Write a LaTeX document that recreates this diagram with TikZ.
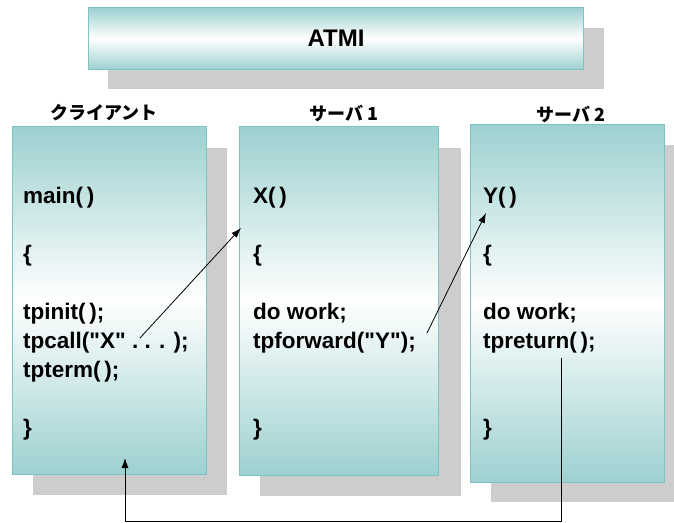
\documentclass[tikz,border=0pt]{standalone}
\usepackage{fontspec}
\setmainfont{Liberation Sans}
\newfontfamily\jpfont{Noto Sans CJK JP}
\usetikzlibrary{arrows.meta,positioning}
\definecolor{tealx}{HTML}{9DD0D0}
\definecolor{edgex}{HTML}{7CC4C4}
\definecolor{greyx}{HTML}{CDCDCD}
\tikzset{
  panel/.style={draw=edgex,line width=1.2pt,top color=tealx,bottom color=tealx,middle color=white,anchor=north west,inner sep=0pt},
  shadowbox/.style={fill=greyx},
  code/.style={font=\fontsize{22.5}{24}\selectfont\bfseries,anchor=base west,inner sep=0pt},
  ttl/.style={font=\jpfont\bfseries\fontsize{18}{18}\selectfont,inner sep=0pt},
  ar/.style={-{Latex[length=10pt,width=7pt]},black,line width=0.8pt}
}
\newcommand\dq{\textquotedbl}

\begin{document}
\begin{tikzpicture}[x=1pt,y=-1pt]
\useasboundingbox[fill=white] (0,0) rectangle (674,522);
% shadows
\fill[shadowbox] (108,28) rectangle (604,89);
\fill[shadowbox] (33,148) rectangle (227,495);
\fill[shadowbox] (260,148) rectangle (461,496);
\fill[shadowbox] (491,145) rectangle (674,502);
% boxes
\node[panel,minimum width=495pt,minimum height=62pt] (atmi) at (88,7) {};
\node[font=\fontsize{24}{26}\selectfont\bfseries] (atmi-t) at (atmi.center) {ATMI};
\node[panel,minimum width=194pt,minimum height=348pt] (cli) at (12,126) {};
\node[panel,minimum width=199pt,minimum height=349pt] (srv1) at (239,126) {};
\node[panel,minimum width=194pt,minimum height=358pt] (srv2) at (470,124) {};
% titles
\node[ttl] (cli-t) at (104,113) {クライアント};
\node[ttl] (srv1-t) at (344,113) {サーバ 1};
\node[ttl] (srv2-t) at (571,114) {サーバ 2};
% code
\foreach \y/\t in {203/main(\,), 261/\{, 319/tpinit(\,);, 348/tpcall(\dq X\dq\ . . . );, 377/tpterm(\,);, 435/\}}
  \node[code] (cli-\y) at (23,\y) {\t};
\foreach \y/\t in {203/X(\,), 261/\{, 319/do work;, 348/tpforward(\dq Y\dq);, 435/\}}
  \node[code] (srv1-\y) at (253,\y) {\t};
\foreach \y/\t in {203/Y(\,), 261/\{, 319/do work;, 348/tpreturn(\,);, 435/\}}
  \node[code] (srv2-\y) at (483,\y) {\t};
% calls
\coordinate (call) at (140,338);
\coordinate (xin) at (241,228);
\coordinate (fwd) at (427,333);
\coordinate (yin) at (486,213);
\coordinate (ret) at (561,358);
\coordinate (low) at (0,521);
\coordinate (back) at (125,458);
\draw[ar] (call) -- (xin);
\draw[ar] (fwd) -- (yin);
\draw[ar] (ret) -- (ret |- low) -| (back);
\end{tikzpicture}
\end{document}
